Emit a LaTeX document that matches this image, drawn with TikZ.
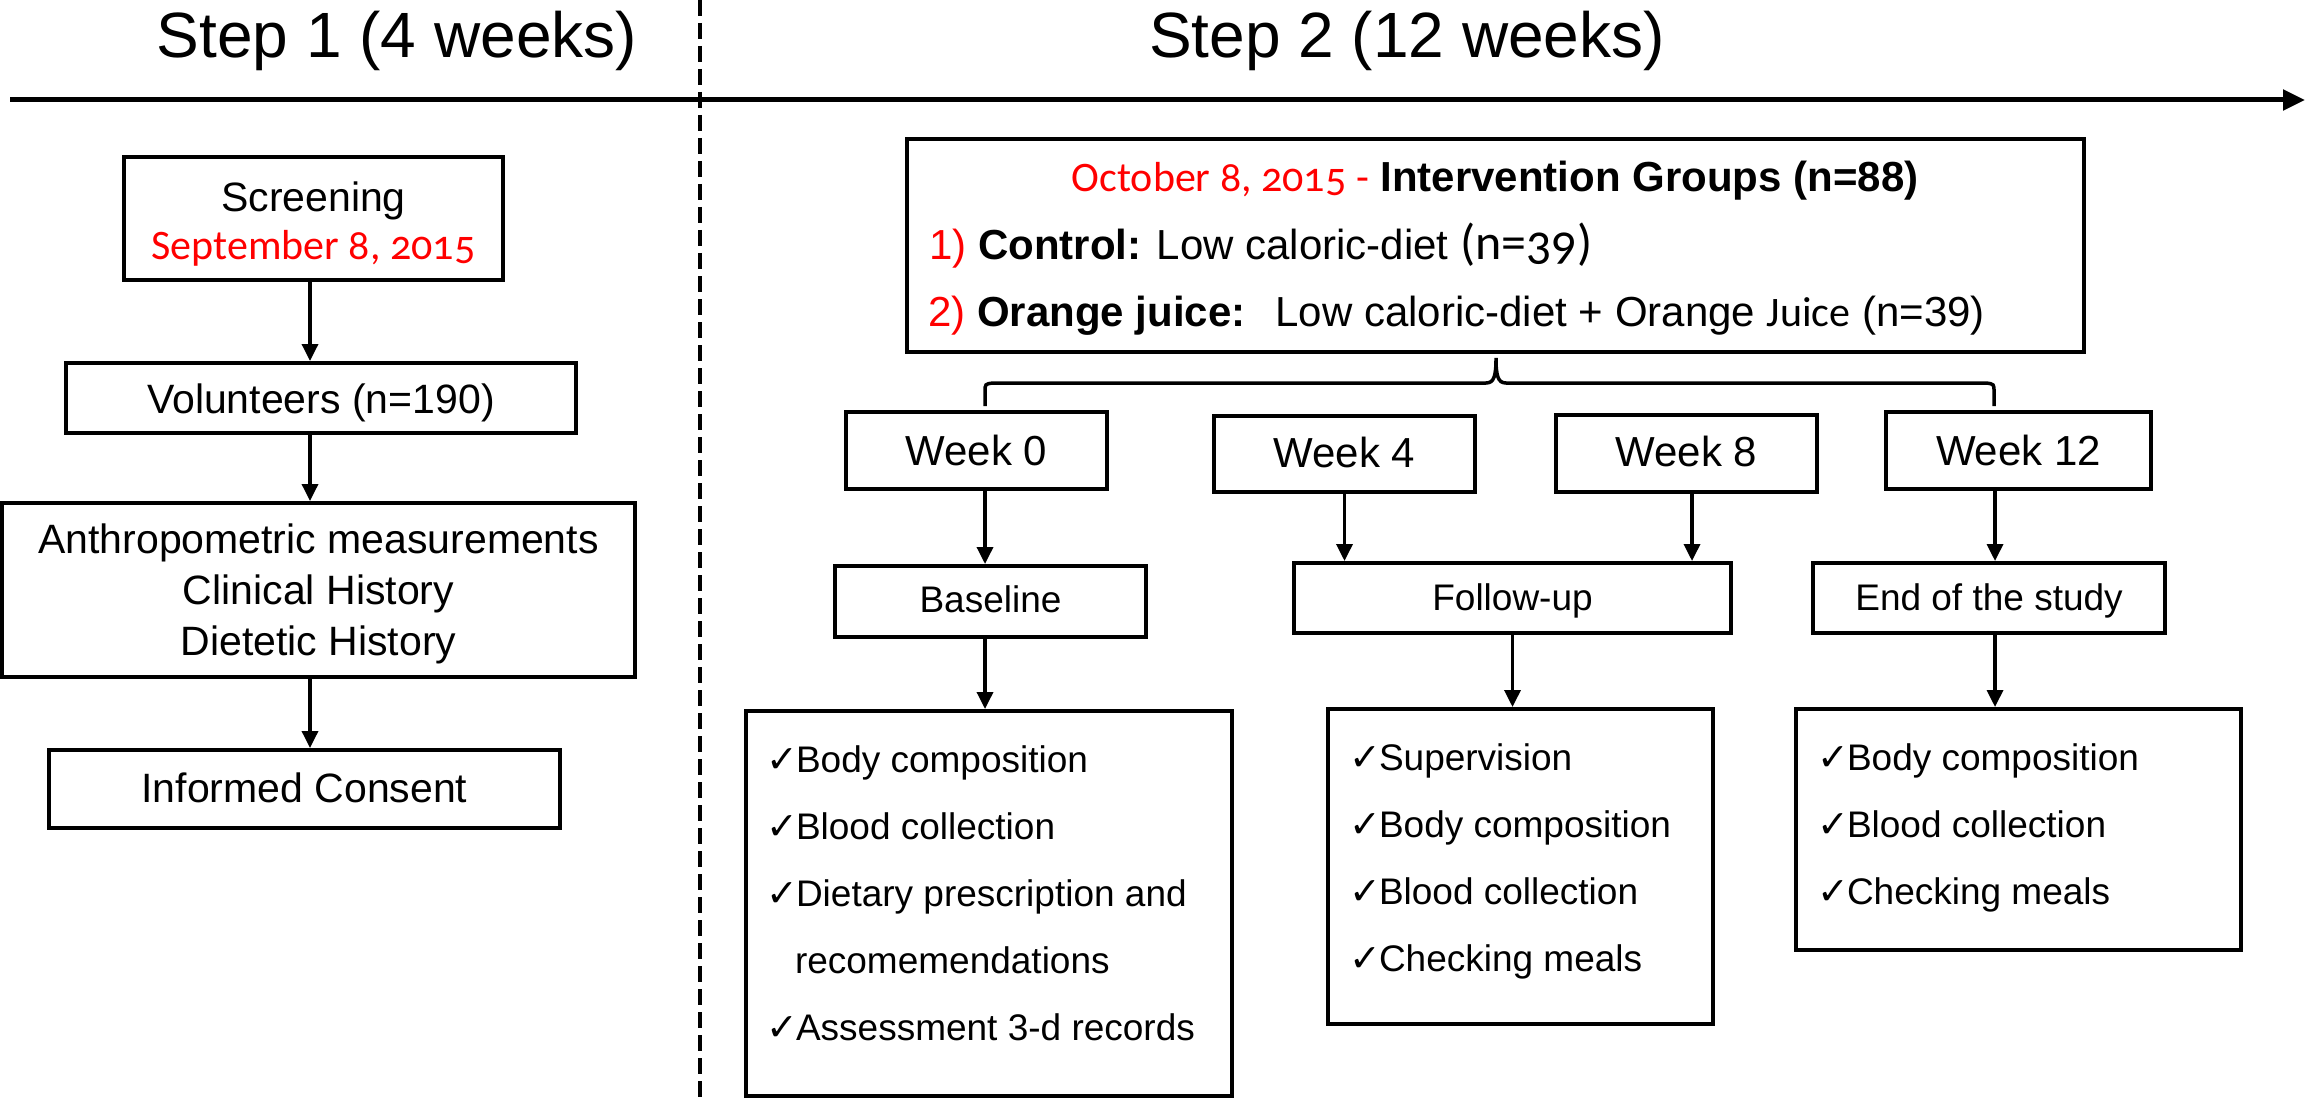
\documentclass[tikz,border=0pt]{standalone}
\usepackage{fontspec}
\setmainfont{Liberation Sans}
\newfontfamily\calfont[Numbers=OldStyle]{Carlito}
\newfontfamily\ckfont{DejaVu Sans}
\usetikzlibrary{arrows.meta}
\definecolor{myred}{RGB}{255,0,0}
\newcommand\ck{\makebox[27pt][l]{\ckfont\fontsize{38}{38}\selectfont\hspace{-3pt}✓}}
\tikzset{
  box/.style 2 args={draw, line width=4pt, minimum width=#1, minimum height=#2, inner sep=0pt, outer sep=0pt},
  txt/.style={inner sep=0pt, outer sep=0pt},
  hdr/.style={txt, anchor=base, font=\fontsize{64}{70}\selectfont},
  lft/.style={txt, anchor=base, font=\fontsize{41}{51}\selectfont},
  wk/.style={txt, anchor=base, font=\fontsize{42}{50}\selectfont},
  stg/.style={txt, anchor=base, font=\fontsize{37}{45}\selectfont},
  li/.style={txt, anchor=base west, font=\fontsize{37}{45}\selectfont},
  arr/.style={line width=3.5pt, -{Triangle[length=17pt,width=16pt]}, shorten >=2pt},
  brace/.style={line width=3.5pt},
}
\begin{document}
\begin{tikzpicture}[x=1pt,y=-1pt]
\useasboundingbox (0,0) rectangle (2306,1099);

% timeline
\coordinate (axL) at (10,100);
\coordinate (axR) at (2305,100);
\draw[line width=5pt, -{Triangle[length=22pt,width=20pt]}] (axL) -- (axR);
\coordinate (dvT) at (700,0);
\coordinate (dvB) at (700,1099);
\draw[line width=3.5pt, dash pattern=on 16pt off 7pt] (dvT) -- (dvB);

\node[hdr] (s1) at (397,58) {Step 1 (4 weeks)};
\node[hdr] (s2) at (1407,58) {Step 2 (12 weeks)};

% column helpers
\coordinate (lx) at (310,0);
\coordinate (xa) at (985,0);
\coordinate (xc) at (1692,0);
\coordinate (xb) at (1995,0);

% Step 1 column
\node[box={379}{123}] (scr) at (313.5,218.5) {};
\node[lft] (scrA) at (313.5,212) {Screening};
\node[txt, anchor=base, font=\fontsize{42}{50}\selectfont\calfont, text=myred] (scrB) at (313.5,260) {September 8, 2015};

\node[box={510}{70}] (vol) at (321,398) {};
\node[lft] (volT) at (321,413) {Volunteers (n=190)};

\node[box={633}{174}] (anth) at (318.5,590) {};
\node[lft] (anA) at (318.5,553) {Anthropometric measurements};
\node[lft] (anB) at (318.5,604) {Clinical History};
\node[lft] (anC) at (318.5,655) {Dietetic History};

\node[box={511}{78}] (inf) at (304.5,789) {};
\node[lft] (infT) at (304.5,802) {Informed Consent};

\draw[arr] (scr.south -| lx) -- (vol.north -| lx);
\draw[arr] (vol.south -| lx) -- (anth.north -| lx);
\draw[arr] (anth.south -| lx) -- (inf.north -| lx);

% Intervention box
\node[box={1177}{213}] (iv) at (1495.5,245.5) {};
\node[wk] (ivA) at (1495,192) {{\calfont\color{myred}October 8, 2015 -} \textbf{Intervention Groups (n=88)}};
\node[wk, anchor=base west] (ivB) at (929,260) {{\color{myred}1)} \textbf{Control:} Low caloric-diet {\calfont\fontsize{50}{50}\selectfont (n=39)}};
\node[wk, anchor=base west] (ivC) at (928,326) {{\color{myred}2)} \textbf{Orange juice:}\hspace{30pt}Low caloric-diet + Orange {\calfont Juice} (n=39)};

% bracket
\coordinate (brL) at (985,406);
\coordinate (brM) at (1496,358);
\coordinate (brR) at (1994,406);
\draw[brace] (brL) -- (985,392) .. controls (985,384) .. (993,383) -- (1486,383)
  .. controls (1494,383) and (1496,376) .. (brM)
  .. controls (1496,376) and (1498,383) .. (1506,383) -- (1986,383)
  .. controls (1994,384) .. (1994,392) -- (brR);

% week boxes
\node[box={261}{77}] (w0) at (976.5,450.5) {};
\node[wk] (w0t) at (976.5,465) {Week 0};
\node[box={261}{76}] (w4) at (1344.5,454) {};
\node[wk] (w4t) at (1344.5,467) {Week 4};
\node[box={261}{77}] (w8) at (1686.5,453.5) {};
\node[wk] (w8t) at (1686.5,466) {Week 8};
\node[box={265}{77}] (w12) at (2018.5,450.5) {};
\node[wk] (w12t) at (2018.5,465) {Week 12};

% stage boxes
\node[box={311}{71}] (base) at (990.5,601.5) {};
\node[stg] (baset) at (990.5,612) {Baseline};
\node[box={437}{70}] (fu) at (1512.5,598) {};
\node[stg] (fut) at (1512.5,610) {Follow-up};
\node[box={352}{70}] (end) at (1989,598) {};
\node[stg] (endt) at (1989,610) {End of the study};

\draw[arr] (w0.south -| xa) -- (base.north -| xa);
\draw[arr] (w4.south) -- (w4.south |- fu.north);
\draw[arr] (w8.south -| xc) -- (fu.north -| xc);
\draw[arr] (w12.south -| xb) -- (end.north -| xb);

% list boxes
\node[box={486}{385}] (l0) at (989,903.5) {};
\node[box={385}{315}] (l1) at (1520.5,866.5) {};
\node[box={445}{241}] (l2) at (2018.5,829.5) {};

\draw[arr] (base.south -| xa) -- (l0.north -| xa);
\draw[arr] (fu.south) -- (fu.south |- l1.north);
\draw[arr] (end.south -| xb) -- (l2.north -| xb);

\foreach \t [count=\i] in {Body composition, Blood collection, Dietary prescription and}
  \node[li] (l0t\i) at (769,{772+67*(\i-1)}) {\ck\t};
\node[li] (l0t4) at (795,973) {recomemendations};
\node[li] (l0t5) at (769,1040) {\ck Assessment 3-d records};

\foreach \t [count=\i] in {Supervision, Body composition, Blood collection, Checking meals}
  \node[li] (l1t\i) at (1352,{770+67*(\i-1)}) {\ck\t};

\foreach \t [count=\i] in {Body composition, Blood collection, Checking meals}
  \node[li] (l2t\i) at (1820,{770+67*(\i-1)}) {\ck\t};
\end{tikzpicture}
\end{document}
